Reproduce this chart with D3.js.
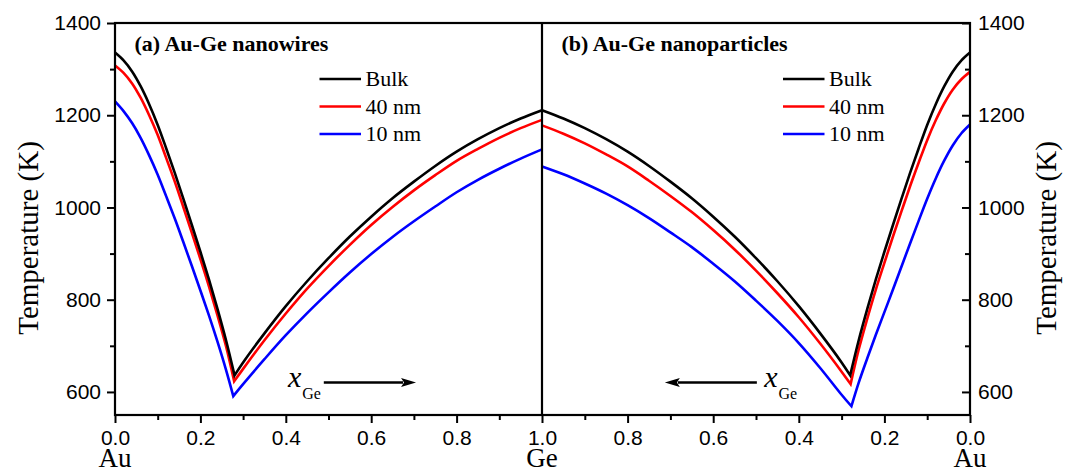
<!DOCTYPE html>
<html>
<head>
<meta charset="utf-8">
<script src="https://cdn.jsdelivr.net/npm/d3@7"></script>
<style>
  html, body { margin: 0; padding: 0; background: #ffffff; }
  svg { display: block; }
</style>
</head>
<body>
<svg id="chart" width="1067" height="473"></svg>
<script>
// Composition grid (mole fraction of Ge) for the two liquidus branches
const xAu = [0.00, 0.02, 0.04, 0.06, 0.08, 0.10, 0.12, 0.14, 0.16, 0.18, 0.20, 0.22, 0.24, 0.26];
const xGe = [0.30, 0.35, 0.40, 0.45, 0.50, 0.55, 0.60, 0.65, 0.70, 0.75, 0.80, 0.85, 0.90, 0.95, 1.00];

const seriesNames = ["Bulk", "40 nm", "10 nm"];
const seriesColors = ["#000000", "#ff0000", "#0000ff"];

// Eutectic points (x_Ge, K)
const wireEutecticX = [0.280, 0.279, 0.277];
const wireEutecticT = [636, 623, 591];
const particleEutecticX = [0.280, 0.279, 0.277];
const particleEutecticT = [636, 617, 569];

// Liquidus temperatures (K): Au-rich branch on xAu, Ge-rich branch on xGe
const bulkAu = [1336, 1319, 1295, 1263, 1224, 1179, 1128, 1075, 1019, 962, 904, 844, 780, 712];
const bulkGe = [664, 727, 786, 840, 890, 937, 980, 1020, 1056, 1090, 1121, 1148, 1172, 1193, 1211];

const wire40Au = [1308, 1292, 1269, 1238, 1200, 1157, 1107, 1056, 1001, 945, 888, 829, 766, 699];
const wire40Ge = [650, 712, 770, 824, 873, 919, 962, 1001, 1037, 1070, 1101, 1127, 1151, 1172, 1190];
const wire10Au = [1230, 1209, 1183, 1151, 1113, 1071, 1024, 976, 925, 873, 820, 766, 709, 648];
const wire10Ge = [617, 671, 723, 771, 816, 859, 899, 936, 970, 1002, 1033, 1060, 1084, 1106, 1126];

const particle40Au = [1294, 1278, 1256, 1226, 1189, 1146, 1097, 1046, 992, 937, 880, 822, 759, 692];
const particle40Ge = [644, 705, 762, 814, 863, 909, 951, 990, 1025, 1058, 1089, 1115, 1139, 1160, 1178];
const particle10Au = [1180, 1161, 1135, 1102, 1063, 1019, 971, 922, 872, 822, 773, 724, 673, 620];
const particle10Ge = [594, 652, 706, 754, 798, 840, 878, 914, 946, 977, 1005, 1030, 1052, 1072, 1089];

// Axis ticks and labels
const yTicksMajor = [600, 800, 1000, 1200, 1400];
const yTicksMinor = [700, 900, 1100, 1300];
const xTicksMajor = [0.0, 0.2, 0.4, 0.6, 0.8, 1.0];
const xTicksMinor = [0.1, 0.3, 0.5, 0.7, 0.9];
const panelTitles = ["(a) Au-Ge nanowires", "(b) Au-Ge nanoparticles"];
const yTitle = "Temperature (K)";

const SANS = "'Liberation Sans', Arial, sans-serif";
const SERIF = "'Liberation Serif', 'Times New Roman', serif";

const svg = d3.select("#chart");

const plotLeft = 115, plotMid = 542, plotRight = 970, plotTop = 23, plotBottom = 415;

const y = d3.scaleLinear().domain([550, 1400]).range([plotBottom, plotTop]);
const xLeft = d3.scaleLinear().domain([0, 1]).range([plotLeft, plotMid]);
const xRight = d3.scaleLinear().domain([1, 0]).range([plotMid, plotRight]);

function buildSeries(auSets, geSets, eX, eT) {
  return seriesNames.map((name, i) => ({
    name,
    color: seriesColors[i],
    au: xAu.map((x, k) => [x, auSets[i][k]]).concat([[eX[i], eT[i]]]),
    ge: [[eX[i], eT[i]]].concat(xGe.map((x, k) => [x, geSets[i][k]]))
  }));
}

const wireSeries = buildSeries([bulkAu, wire40Au, wire10Au], [bulkGe, wire40Ge, wire10Ge], wireEutecticX, wireEutecticT);
const particleSeries = buildSeries([bulkAu, particle40Au, particle10Au], [bulkGe, particle40Ge, particle10Ge], particleEutecticX, particleEutecticT);

// One continuous path per series so the eutectic vertex gets a sharp join
function seriesPath(s, xs) {
  const line = d3.line().x(d => xs(d[0])).y(d => y(d[1])).curve(d3.curveCatmullRom.alpha(0.5));
  const first = line(s.au);
  const second = line(s.ge).replace(/^M[^A-Za-z]*/, "");
  return first + second;
}

function drawPanel(series, xs, panelX0, legendOffset, title) {
  const g = svg.append("g");
  g.selectAll("path.curve")
    .data(series.slice().reverse())
    .join("path")
    .attr("class", "curve")
    .attr("d", d => seriesPath(d, xs))
    .attr("fill", "none")
    .attr("stroke", d => d.color)
    .attr("stroke-width", 2.6)
    .attr("stroke-linejoin", "miter");

  g.append("text")
    .attr("x", panelX0 + 19.5)
    .attr("y", 51)
    .attr("font-family", SERIF)
    .attr("font-weight", "bold")
    .attr("font-size", 22)
    .attr("fill", "#000")
    .text(title);

  const lg = g.append("g").attr("transform", `translate(${panelX0 + legendOffset},79)`);
  series.forEach((s, i) => {
    lg.append("line")
      .attr("x1", 0).attr("x2", 41.5)
      .attr("y1", i * 27.5).attr("y2", i * 27.5)
      .attr("stroke", s.color).attr("stroke-width", 2.6);
    lg.append("text")
      .attr("x", 46).attr("y", i * 27.5)
      .attr("dy", "0.34em")
      .attr("font-family", SERIF)
      .attr("font-size", 22)
      .attr("fill", "#000")
      .text(s.name);
  });
}

drawPanel(wireSeries, xLeft, plotLeft, 204.5, panelTitles[0]);
drawPanel(particleSeries, xRight, plotMid, 241, panelTitles[1]);

// Frame and panel divider
svg.append("rect")
  .attr("x", plotLeft).attr("y", plotTop)
  .attr("width", plotRight - plotLeft).attr("height", plotBottom - plotTop)
  .attr("fill", "none").attr("stroke", "#000").attr("stroke-width", 2.2);
svg.append("line")
  .attr("x1", plotMid).attr("x2", plotMid)
  .attr("y1", plotTop).attr("y2", plotBottom)
  .attr("stroke", "#000").attr("stroke-width", 2.2);

function styleAxis(g, fontFamily, fontSize) {
  g.select(".domain").remove();
  g.selectAll(".tick line").attr("stroke", "#000").attr("stroke-width", 2);
  g.selectAll(".tick text").attr("font-family", fontFamily).attr("font-size", fontSize).attr("fill", "#000");
}

// Left temperature axis (ticks outward)
svg.append("g").attr("transform", `translate(${plotLeft},0)`)
  .call(d3.axisLeft(y).tickValues(yTicksMajor).tickSize(8).tickPadding(6).tickFormat(d3.format("d")))
  .call(g => styleAxis(g, SANS, 21));
svg.append("g").attr("transform", `translate(${plotLeft},0)`)
  .call(d3.axisLeft(y).tickValues(yTicksMinor).tickSize(5).tickFormat(""))
  .call(g => styleAxis(g, SANS, 21));

// Right temperature axis (ticks inward)
svg.append("g").attr("transform", `translate(${plotRight},0)`)
  .call(d3.axisRight(y).tickValues(yTicksMajor).tickSize(-8).tickPadding(8).tickFormat(d3.format("d")))
  .call(g => styleAxis(g, SANS, 21));
svg.append("g").attr("transform", `translate(${plotRight},0)`)
  .call(d3.axisRight(y).tickValues(yTicksMinor).tickSize(-5).tickFormat(""))
  .call(g => styleAxis(g, SANS, 21));

// Composition axes
svg.append("g").attr("transform", `translate(0,${plotBottom})`)
  .call(d3.axisBottom(xLeft).tickValues(xTicksMajor).tickSize(8).tickPadding(7).tickFormat(d3.format(".1f")))
  .call(g => styleAxis(g, SANS, 21));
svg.append("g").attr("transform", `translate(0,${plotBottom})`)
  .call(d3.axisBottom(xLeft).tickValues(xTicksMinor).tickSize(5).tickFormat(""))
  .call(g => styleAxis(g, SANS, 21));
svg.append("g").attr("transform", `translate(0,${plotBottom})`)
  .call(d3.axisBottom(xRight).tickValues(xTicksMajor.filter(v => v < 1)).tickSize(8).tickPadding(7).tickFormat(d3.format(".1f")))
  .call(g => styleAxis(g, SANS, 21));
svg.append("g").attr("transform", `translate(0,${plotBottom})`)
  .call(d3.axisBottom(xRight).tickValues(xTicksMinor).tickSize(5).tickFormat(""))
  .call(g => styleAxis(g, SANS, 21));

// Pure-element labels under the composition ends
[[xLeft(0), "Au"], [xLeft(1), "Ge"], [xRight(0), "Au"]].forEach(([px, label]) => {
  svg.append("text")
    .attr("x", px).attr("y", 467)
    .attr("text-anchor", "middle")
    .attr("font-family", SERIF)
    .attr("font-size", 27)
    .attr("fill", "#000")
    .text(label);
});

// Temperature titles on both sides
[[28, 238], [1046, 238]].forEach(([cx, cy]) => {
  svg.append("text")
    .attr("transform", `translate(${cx},${cy}) rotate(-90)`)
    .attr("text-anchor", "middle")
    .attr("dy", "0.35em")
    .attr("font-family", SERIF)
    .attr("font-size", 29)
    .attr("fill", "#000")
    .text(yTitle);
});

// Direction of increasing Ge content
function xGeLabel(px) {
  const t = svg.append("text")
    .attr("x", px).attr("y", 387)
    .attr("font-family", SERIF)
    .attr("fill", "#000");
  t.append("tspan").attr("font-style", "italic").attr("font-size", 30).text("x");
  t.append("tspan").attr("font-size", 16).attr("dx", 1).attr("dy", 12).text("Ge");
}

function arrow(xFrom, xTo, yPx) {
  const dir = Math.sign(xTo - xFrom);
  const headLen = 15, headHalf = 4.5;
  svg.append("line")
    .attr("x1", xFrom).attr("x2", xTo - dir * headLen + dir * 2)
    .attr("y1", yPx).attr("y2", yPx)
    .attr("stroke", "#000").attr("stroke-width", 2.6);
  svg.append("path")
    .attr("d", `M${xTo},${yPx} L${xTo - dir * headLen},${yPx - headHalf} L${xTo - dir * (headLen - 3)},${yPx} L${xTo - dir * headLen},${yPx + headHalf} Z`)
    .attr("fill", "#000");
}

xGeLabel(xLeft(0.405));
arrow(xLeft(0.489), xLeft(0.705), 382.5);

xGeLabel(xRight(0.481));
arrow(xRight(0.498), xRight(0.713), 382.5);
</script>
</body>
</html>
